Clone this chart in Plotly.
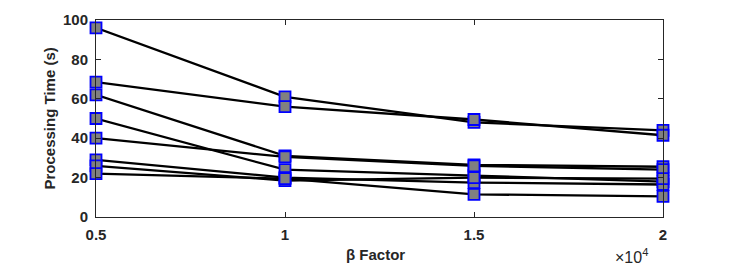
import plotly.graph_objects as go

# beta factor (x 10^4)
beta = [0.5, 1.0, 1.5, 2.0]
x_tick_vals = [0.5, 1.0, 1.5, 2.0]
x_tick_text = ["0.5", "1", "1.5", "2"]
y_tick_vals = [0, 20, 40, 60, 80, 100]

# processing time (s) for each run
s1 = [96.0, 61.0, 48.0, 44.0]
s2 = [68.5, 56.0, 49.5, 41.5]
s3 = [62.0, 31.0, 26.5, 25.5]
s4 = [50.0, 24.0, 21.0, 18.0]
s5 = [40.0, 30.5, 26.0, 24.0]
s6 = [29.0, 20.0, 17.5, 16.5]
s7 = [26.0, 18.5, 20.0, 19.5]
s8 = [22.0, 19.5, 11.5, 10.5]
series = [s1, s2, s3, s4, s5, s6, s7, s8]

OFF = 8  # page body margin
W, H = 734 - OFF, 267 - OFF
L, R, T, B = 96 - OFF, 71, 20 - OFF, 50
pw = W - L - R
ph = H - T - B

fig = go.Figure()
for s in series:
    fig.add_trace(go.Scatter(
        x=beta, y=s, mode="lines+markers", cliponaxis=False,
        line=dict(color="black", width=2.3),
        marker=dict(symbol="square", size=11, color="#808080",
                    line=dict(color="#0000FF", width=1.8)),
        showlegend=False,
    ))

tickfont = dict(family="Liberation Sans, Arial", size=15, color="#262626", weight="bold")
axis_common = dict(
    showgrid=False, zeroline=False, showline=True, linecolor="#262626",
    linewidth=1, mirror="ticks", ticks="inside", ticklen=5, tickcolor="#262626",
    tickfont=tickfont, automargin=False,
)
fig.update_xaxes(range=[0.5, 2.0], tickvals=x_tick_vals, ticktext=x_tick_text,
                 ticklabelstandoff=4, **axis_common)
fig.update_yaxes(range=[0, 100], tickvals=y_tick_vals, ticklabelstandoff=4, **axis_common)

font_title = dict(family="Liberation Sans, Arial", size=15, color="#262626", weight="bold")
fig.update_layout(
    width=W, height=H, margin=dict(l=L, r=R, t=T, b=B, autoexpand=False),
    paper_bgcolor="white", plot_bgcolor="white",
    annotations=[
        dict(text="Processing Time (s)", xref="paper", yref="paper",
             x=(49 - 96) / pw, y=0.5, textangle=-90, showarrow=False,
             xanchor="center", yanchor="middle", font=font_title),
        dict(text="β Factor", xref="paper", yref="paper",
             x=(375 - 96) / pw, y=-(255 - 217) / ph, showarrow=False,
             xanchor="center", yanchor="middle", font=font_title),
        dict(text="×10<sup>4</sup>", xref="paper", yref="paper",
             x=(631 - 96) / pw, y=-(256 - 217) / ph, showarrow=False,
             xanchor="center", yanchor="middle",
             font=dict(family="Liberation Sans, Arial", size=16, color="#262626")),
    ],
)

fig.write_html("out.html")
